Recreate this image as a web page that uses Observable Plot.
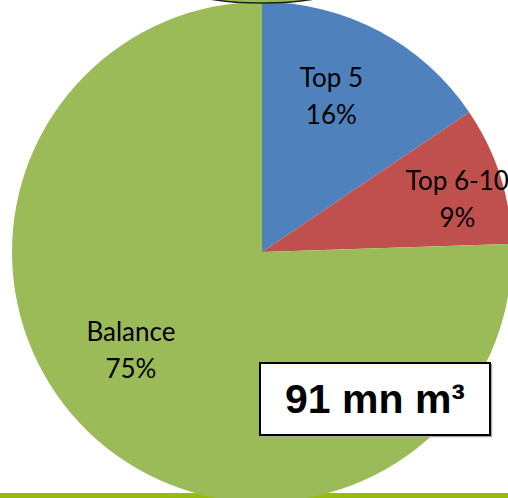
<!DOCTYPE html>
<html><head><meta charset="utf-8">
<script src="https://cdn.jsdelivr.net/npm/d3@7"></script>
<script src="https://cdn.jsdelivr.net/npm/@observablehq/plot@0.6"></script>
<style>body{margin:0;background:#fff;} #chart{width:508px;height:498px;overflow:hidden}</style>
</head><body><div id="chart"></div>
<script>
// ---- data ----
const categories = ["Top 5", "Top 6-10", "Balance"];
const shares = [15.55, 8.93, 75.52];
const shareLabels = ["16%", "9%", "75%"];
const totalLabel = "91 mn m³";

// ---- style / layout ----
const colors = ["#4f81bd", "#c0504d", "#9bbb59"];
const W = 508, H = 498, R = 250, CX = 262, CY = 252;
const labelRadius = [0.68, 0.808, 0.656];      // fraction of radius
const labelAngleShift = [-4.1, 2.7, 9.3];      // degrees, clockwise

const rows = categories.map((c, i) => ({cat: c, share: shares[i], label: shareLabels[i], color: colors[i]}));
const arcs = d3.pie().sort(null).value(d => d.share)(rows);
arcs.forEach((a, i) => {
  const mid = (a.startAngle + a.endAngle) / 2 + labelAngleShift[i] * Math.PI / 180;
  a.data.lx = labelRadius[i] * Math.sin(mid);
  a.data.ly = labelRadius[i] * Math.cos(mid);
});

const xDomain = [-CX / R, (W - CX) / R];
const yDomain = [-(H - CY) / R, CY / R];

function wedges(index, scales) {
  const g = d3.create("svg:g");
  const x0 = scales.x(0), y0 = scales.y(0), r = scales.x(1) - scales.x(0);
  const arc = d3.arc().innerRadius(0).outerRadius(r);
  g.attr("transform", `translate(${x0},${y0})`)
    .selectAll("path").data(arcs).join("path")
    .attr("d", arc).attr("fill", d => d.data.color);
  return g.node();
}

function topOval(index, scales) {
  const g = d3.create("svg:g");
  g.append("ellipse")
    .attr("cx", scales.x(0)).attr("cy", scales.y(yDomain[1]) - 9)
    .attr("rx", 70).attr("ry", 12)
    .attr("fill", "#9bbb59").attr("stroke", "#222").attr("stroke-width", 1.5);
  return g.node();
}

function totalBox(index, scales, values, dims) {
  const g = d3.create("svg:g");
  const bw = 230, bh = 72;
  const x = dims.width - 18 - bw, y = dims.height - 63 - bh;
  g.append("rect").attr("x", x + 1.5).attr("y", y + 1.5).attr("width", bw).attr("height", bh)
    .attr("fill", "none").attr("stroke", "#aaa").attr("stroke-width", 1.5);
  g.append("rect").attr("x", x).attr("y", y).attr("width", bw).attr("height", bh)
    .attr("fill", "#fff").attr("stroke", "#000").attr("stroke-width", 2);
  g.append("text").attr("x", x + bw / 2).attr("y", y + 50)
    .attr("text-anchor", "middle")
    .attr("font-family", "Liberation Sans, Arial, sans-serif")
    .attr("font-weight", "bold").attr("font-size", 41).attr("fill", "#000")
    .text(totalLabel);
  return g.node();
}

const chart = Plot.plot({
  width: W, height: H,
  margin: 0,
  x: {domain: xDomain, axis: null},
  y: {domain: yDomain, axis: null},
  marks: [
    Plot.ruleY([yDomain[0]], {stroke: "#99bb11", strokeWidth: 11}),
    wedges,
    topOval,
    Plot.text(rows, {
      x: "lx", y: "ly", dy: -3,
      text: d => d.cat + "\n" + d.label,
      fontSize: 26, fontFamily: "Lato, sans-serif", lineHeight: 37 / 26,
      fill: "#000"
    }),
    totalBox
  ]
});
document.getElementById("chart").appendChild(chart);
</script>
</body></html>
